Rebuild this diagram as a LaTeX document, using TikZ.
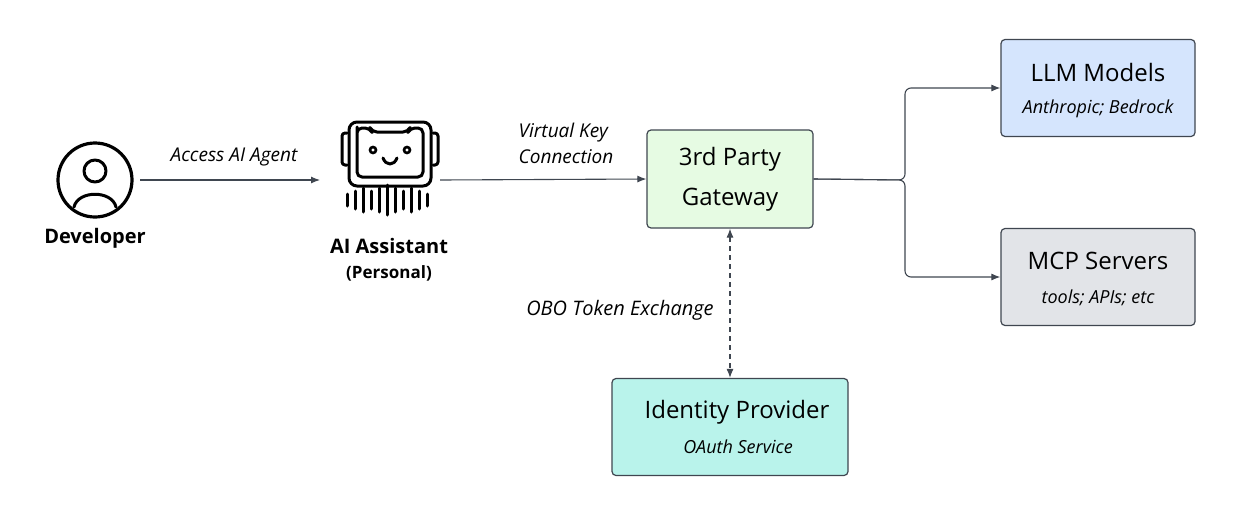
\documentclass[tikz,border=0pt]{standalone}
\usepackage{fontspec}
\setmainfont{Open Sans}
\usetikzlibrary{arrows.meta}
\definecolor{edge}{HTML}{3F4650}
\definecolor{gw}{HTML}{E6FBE3}
\definecolor{llm}{HTML}{D5E5FD}
\definecolor{mcp}{HTML}{E2E4E8}
\definecolor{idp}{HTML}{B9F3EB}
\tikzset{
 box/.style={draw=edge,line width=1.2pt,rounded corners=4pt,align=center,inner sep=0pt},
 conn/.style={draw=edge,line width=1.1pt,-{Latex[length=9pt,width=7pt]}},
 lbl/.style={font=\itshape\fontsize{19}{26}\selectfont,text=black},
 sub/.style={font=\itshape\fontsize{18}{22}\selectfont,text=black},
 ttl/.style={font=\fontsize{24}{28}\selectfont},
 icon/.style={line width=3pt,line cap=round,line join=round}
}
\begin{document}
\begin{tikzpicture}[x=1pt,y=-1pt]
\useasboundingbox (0,0) rectangle (1236,517);
% developer
\node (dev) [circle,draw,line width=3.2pt,minimum size=74pt,inner sep=0] at (95,180) {};
\draw[icon] (95,171) circle (11);
\draw[icon] (74,207) .. controls (78,190) and (112,190) .. (116,207);
\node[font=\bfseries\fontsize{20}{24}\selectfont] (devl) at (95,238) {Developer};
% robot
\draw[icon,rounded corners=8pt] (349,122) rectangle (431,186);
\draw[icon,rounded corners=5pt] (357,132) -- (357,128) -- (370,128) -- (372,132) -- (408,132) -- (410,128) -- (423,128) -- (423,177) -- (357,177) -- cycle;
\draw[icon,rounded corners=3pt] (347,133) -- (342,133) -- (342,165) -- (347,165);
\draw[icon,rounded corners=3pt] (433,133) -- (438,133) -- (438,165) -- (433,165);
\draw[line width=2.6pt] (373,150) circle (3);
\draw[line width=2.6pt] (407,150) circle (3);
\draw[icon] (383,158) .. controls (386,166) and (394,166) .. (397,158);
\foreach \x/\h in {347/6,355/9,363/12,371/9,379/12,387/15,395/12,403/9,411/12,419/9,427/6}
  \draw[line width=3pt,line cap=round] (\x+0.5,200-\h) -- (\x+0.5,200+\h);
\node[font=\bfseries\fontsize{20}{24}\selectfont] (robl) at (389,246) {AI Assistant};
\node[font=\bfseries\fontsize{17}{20}\selectfont] (robl2) at (389,273) {(Personal)};
% boxes
\node[box,fill=gw,minimum width=166pt,minimum height=98pt,font=\fontsize{24}{40}\selectfont] (gw) at (730,179) {3rd Party\\Gateway};
\node[box,fill=llm,minimum width=194pt,minimum height=97pt] (llm) at (1098,88) {};
\node[ttl] (llmt) at (1098,72) {LLM Models};
\node[sub] (llms) at (1098,109) {Anthropic; Bedrock};
\node[box,fill=mcp,minimum width=194pt,minimum height=97pt] (mcp) at (1098,277) {};
\node[ttl] (mcpt) at (1098,261) {MCP Servers};
\node[sub] (mcps) at (1098,298) {tools; APIs; etc};
\node[box,fill=idp,minimum width=236pt,minimum height=97pt] (idp) at (730,427) {};
\node[ttl] (idpt) at (737,412) {Identity Provider};
\node[sub] (idps) at (738,447) {OAuth Service};
% connectors
\coordinate (d1) at (140,180);
\coordinate (r1) at (320,180);
\coordinate (r2) at (440,180);
\draw[conn] (d1) -- (r1);
\node[lbl] (l1) at (234,157) {Access AI Agent};
\draw[conn] (r2) -- (gw.west);
\node[lbl,align=left] (l2) at (566,143) {Virtual Key\\Connection};
\coordinate (split) at (905,180);
\draw[conn,rounded corners=6pt] (gw.east) -- (split) |- (llm.west);
\draw[conn,rounded corners=6pt] (gw.east) -- (split) |- (mcp.west);
\draw[draw=edge,line width=1.1pt,dash pattern=on 5pt off 4pt,{Latex[length=9pt,width=7pt]}-{Latex[length=9pt,width=7pt]}] (gw.south) -- (idp.north);
\node[lbl,font=\itshape\fontsize{20}{24}\selectfont] (l3) at (620,310) {OBO Token Exchange};
\end{tikzpicture}
\end{document}
